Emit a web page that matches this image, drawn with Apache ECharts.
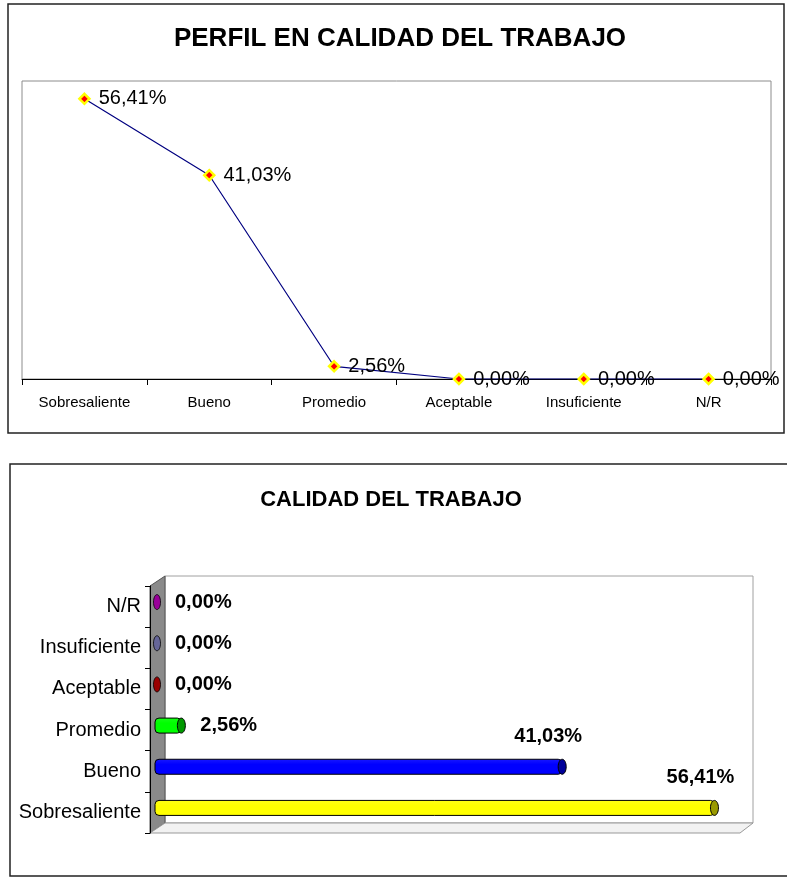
<!DOCTYPE html>
<html>
<head>
<meta charset="utf-8">
<title>Calidad del trabajo</title>
<script src="https://cdn.jsdelivr.net/npm/echarts@6/dist/echarts.min.js"></script>
<style>
  html, body { margin: 0; padding: 0; background: #fff; }
  #main { width: 787px; height: 878px; }
</style>
</head>
<body>
<div id="main"></div>
<script>
// datos del grafico
const categories = ['Sobresaliente', 'Bueno', 'Promedio', 'Aceptable', 'Insuficiente', 'N/R'];
const percentValues = [56.41, 41.03, 2.56, 0, 0, 0];
const axisMax = 60;

// colores de los cilindros
const barColors = ['#ffff00', '#0000ff', '#00ff00', '#990000', '#666699', '#990099'];
const capColors = ['#999900', '#000099', '#009900', '#990000', '#666699', '#990099'];

const FONT = '"Liberation Sans", Arial, sans-serif';

function fmt(v) {
  return v.toFixed(2).replace('.', ',') + '%';
}

let chart = echarts.init(document.getElementById('main'), null, { renderer: 'canvas' });

//cilindros del grafico de barras
function renderBar(params, api) {
  var v = api.value(0);
  var i = api.value(1);
  var p0 = api.coord([0, i]);
  var p1 = api.coord([v, i]);
  var dx = 6, dy = -4.5, h = 15, rx = 4;
  var x0 = p0[0] + dx;
  var x1 = p1[0] + dx;
  var cy = p0[1] + dy;
  var color = barColors[i];
  var children = [];
  if (x1 - x0 > 0.5) {
    children.push({
      type: 'rect',
      shape: { x: x0 - 1, y: cy - h / 2, width: x1 - x0 + 1, height: h, r: rx },
      style: {
        fill: new echarts.graphic.LinearGradient(0, 0, 0, 1, [
          { offset: 0, color: echarts.color.lift(color, 0.1) },
          { offset: 0.35, color: color },
          { offset: 1, color: echarts.color.lift(color, -0.15) }
        ]),
        stroke: '#000',
        lineWidth: 1
      }
    });
    children.push({
      type: 'ellipse',
      shape: { cx: x1, cy: cy, rx: rx, ry: h / 2 },
      style: { fill: capColors[i], stroke: '#000', lineWidth: 1 }
    });
  } else {
    children.push({
      type: 'ellipse',
      shape: { cx: x0 + 1, cy: cy, rx: 3.5, ry: h / 2 },
      style: { fill: color, stroke: '#000', lineWidth: 0.8 }
    });
  }
  // etiqueta del valor
  var big = v > 10;
  children.push({
    type: 'text',
    style: {
      text: fmt(v),
      x: big ? x1 - 14 : x1 + 19,
      y: big ? cy - 30 : cy,
      align: big ? 'center' : 'left',
      verticalAlign: 'middle',
      font: 'bold 20px ' + FONT,
      fill: '#000'
    }
  });
  return { type: 'group', children: children };
}

var option = {
  backgroundColor: '#fff',
  animation: false,
  title: [{
    text: 'PERFIL EN CALIDAD DEL TRABAJO',
    left: 395,
    top: 21,
    textAlign: 'center',
    textStyle: { fontFamily: FONT, fontSize: 26, fontWeight: 'bold', color: '#000' }
  }, {
    text: 'CALIDAD DEL TRABAJO',
    left: 386,
    top: 484,
    textAlign: 'center',
    textStyle: { fontFamily: FONT, fontSize: 22, fontWeight: 'bold', color: '#000' }
  }],
  graphic: [
    // marcos exteriores
    { type: 'rect', z: -10, shape: { x: 8, y: 4, width: 776, height: 429 },
      style: { fill: '#fff', stroke: '#222', lineWidth: 1.5 } },
    { type: 'rect', z: -10, shape: { x: 10, y: 464, width: 790, height: 412 },
      style: { fill: '#fff', stroke: '#222', lineWidth: 1.5 } },
    // pared de fondo, pared lateral y piso
    { type: 'rect', z: -5, shape: { x: 165, y: 576, width: 588, height: 247 },
      style: { fill: '#fff', stroke: '#a0a0a0', lineWidth: 1 } },
    { type: 'polygon', z: -5, shape: { points: [[150, 586], [165, 576], [165, 823], [150, 833]] },
      style: { fill: '#8a8a8a', stroke: '#555', lineWidth: 1 } },
    { type: 'polygon', z: -5, shape: { points: [[150, 833], [165, 823], [753, 823], [740, 833]] },
      style: { fill: '#f2f2f2', stroke: '#999', lineWidth: 1 } }
  ],
  grid: [{
    left: 22, top: 81, width: 749, height: 298,
    show: true, borderColor: '#8c8c8c', borderWidth: 1, backgroundColor: '#fff'
  }, {
    left: 150, top: 586, width: 594, height: 247
  }],
  xAxis: [{
    gridIndex: 0,
    type: 'category',
    data: categories,
    boundaryGap: true,
    axisLine: { lineStyle: { color: '#000', width: 1 } },
    axisTick: { show: true, length: 6, lineStyle: { color: '#000' } },
    axisLabel: { color: '#000', fontFamily: FONT, fontSize: 15, margin: 16 }
  }, {
    gridIndex: 1,
    type: 'value',
    min: 0,
    max: axisMax,
    show: false
  }],
  yAxis: [{
    gridIndex: 0,
    type: 'value',
    min: 0,
    max: axisMax,
    show: false
  }, {
    gridIndex: 1,
    type: 'category',
    data: categories,
    axisLine: { lineStyle: { color: '#000', width: 1 } },
    axisTick: { show: true, length: 5, lineStyle: { color: '#000' } },
    axisLabel: { color: '#000', fontFamily: FONT, fontSize: 20, margin: 9 }
  }],
  series: [{
    type: 'line',
    xAxisIndex: 0,
    yAxisIndex: 0,
    data: percentValues,
    lineStyle: { color: '#000080', width: 1.2 },
    symbol: 'diamond',
    symbolSize: 10,
    itemStyle: { color: '#ff0000', borderColor: '#ffff00', borderWidth: 2.5 },
    label: {
      show: true,
      position: 'right',
      distance: 8,
      color: '#000',
      fontFamily: FONT,
      fontSize: 20,
      formatter: function (p) { return fmt(p.value); }
    },
    z: 3
  }, {
    type: 'custom',
    xAxisIndex: 1,
    yAxisIndex: 1,
    renderItem: renderBar,
    encode: { x: 0, y: 1 },
    data: percentValues.map(function (v, i) { return [v, i]; }),
    z: 3
  }]
};

chart.setOption(option);
</script>
</body>
</html>
